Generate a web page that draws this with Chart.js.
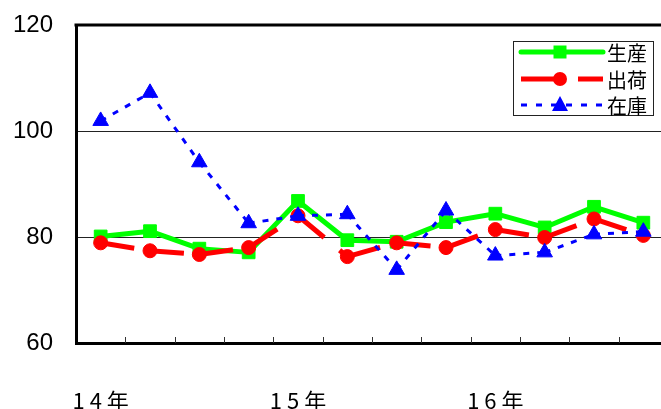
<!DOCTYPE html>
<html>
<head>
<meta charset="utf-8">
<script src="https://cdn.jsdelivr.net/npm/chart.js@4/dist/chart.umd.min.js"></script>
<style>
  html, body { margin: 0; padding: 0; background: #fff; overflow: hidden; }
  #wrap { width: 668px; height: 409px; }
</style>
</head>
<body>
<div id="wrap"><canvas id="chart" width="668" height="409"></canvas></div>
<script>
// 四半期ごとの指数（14年〜16年）
const categories = ['1 4 年', '', '', '', '1 5 年', '', '', '', '1 6 年', '', '', ''];
const seriesNames = ['生産', '出荷', '在庫'];
const production = [80.1, 81.1, 77.8, 77.1, 86.8, 79.4, 79.1, 82.8, 84.4, 81.8, 85.7, 82.7];
const shipments  = [78.9, 77.4, 76.7, 78.0, 84.0, 76.3, 78.9, 78.0, 81.4, 79.9, 83.4, 80.3];
const inventory  = [101.9, 107.2, 94.1, 82.6, 84.0, 84.3, 73.8, 85.0, 76.5, 77.1, 80.5, 81.0];
const yTicks = [60, 80, 100, 120];

// 線分ごとに破線を最初から描き直す（Excel風）
const resetDash = { borderDashOffset: c => (c.p0DataIndex % 2) * 0.001 };

// 上の枠線と、x軸の内向き目盛り
const framePlugin = {
    id: 'frame',
    afterDraw(chart) {
        const ctx = chart.ctx;
        const area = chart.chartArea;
        const x = chart.scales.x;
        ctx.save();
        ctx.strokeStyle = '#000';
        ctx.lineWidth = 3;
        ctx.beginPath();
        ctx.moveTo(area.left - 1.5, area.top);
        ctx.lineTo(area.right, area.top);
        ctx.stroke();
        ctx.lineWidth = 1;
        ctx.strokeStyle = '#333';
        for (let i = 0; i < categories.length - 1; i++) {
            const px = Math.round((x.getPixelForValue(i) + x.getPixelForValue(i + 1)) / 2) + 0.5;
            ctx.beginPath();
            ctx.moveTo(px, area.bottom);
            ctx.lineTo(px, area.bottom - 6);
            ctx.stroke();
        }
        ctx.restore();
    }
};

// 凡例（線＋マーカー）
const legendPlugin = {
    id: 'boxLegend',
    afterDraw(chart) {
        const ctx = chart.ctx;
        const left = 513, top = 41, w = 140, h = 74;
        ctx.save();
        ctx.fillStyle = '#fff';
        ctx.fillRect(left, top, w, h);
        ctx.strokeStyle = '#222';
        ctx.lineWidth = 1;
        ctx.strokeRect(left + 0.5, top + 0.5, w, h);

        const rows = [52, 79, 105];
        const x1 = 521, x2 = 603, mx = 560;
        chart.data.datasets.forEach((ds, i) => {
            const y = rows[i];
            ctx.strokeStyle = ds.borderColor;
            ctx.fillStyle = ds.borderColor;
            ctx.lineWidth = i === 2 ? 3 : 5;
            ctx.lineCap = i === 0 ? 'round' : 'butt';
            ctx.setLineDash(i === 1 ? [40, 17] : i === 2 ? [6, 9] : []);
            ctx.beginPath();
            ctx.moveTo(x1, y);
            ctx.lineTo(x2, y);
            ctx.stroke();
            ctx.setLineDash([]);
            ctx.beginPath();
            if (i === 0) {
                ctx.rect(mx - 6.5, y - 6.5, 13, 13);
            } else if (i === 1) {
                ctx.arc(mx, y, 7, 0, Math.PI * 2);
            } else {
                ctx.moveTo(mx, y - 9);
                ctx.lineTo(mx + 8, y + 6);
                ctx.lineTo(mx - 8, y + 6);
                ctx.closePath();
            }
            ctx.fill();
            ctx.fillStyle = '#000';
            ctx.font = '20px "Noto Sans CJK JP"';
            ctx.textBaseline = 'middle';
            ctx.textAlign = 'left';
            ctx.fillText(ds.label, 607, y + 1);
        });
        ctx.restore();
    }
};

const ctx = document.getElementById('chart').getContext('2d');
new Chart(ctx, {
    type: 'line',
    data: {
        labels: categories,
        datasets: [
            {
                label: seriesNames[0],
                data: production,
                borderColor: '#00ff00',
                backgroundColor: '#00ff00',
                borderWidth: 5,
                borderJoinStyle: 'round',
                borderCapStyle: 'round',
                pointStyle: 'rect',
                pointRadius: 9,
                pointBorderWidth: 1,
                pointBorderColor: '#00ff00',
                pointBackgroundColor: '#00ff00',
                order: 3
            },
            {
                label: seriesNames[1],
                data: shipments,
                borderColor: '#ff0000',
                backgroundColor: '#ff0000',
                borderWidth: 5,
                borderDash: [34, 20],
                segment: resetDash,
                pointStyle: 'circle',
                pointRadius: 7,
                pointBorderWidth: 1,
                pointBorderColor: '#ff0000',
                pointBackgroundColor: '#ff0000',
                order: 2
            },
            {
                label: seriesNames[2],
                data: inventory,
                borderColor: '#0000ff',
                backgroundColor: '#0000ff',
                borderWidth: 3,
                borderDash: [6, 8],
                segment: resetDash,
                pointStyle: 'triangle',
                pointRadius: 9,
                pointBorderWidth: 1,
                pointBorderColor: '#0000ff',
                pointBackgroundColor: '#0000ff',
                order: 1
            }
        ]
    },
    options: {
        responsive: false,
        animation: false,
        devicePixelRatio: 1,
        tension: 0,
        layout: { autoPadding: false, padding: { top: 25, left: 0, right: 0, bottom: 0 } },
        plugins: {
            legend: { display: false },
            tooltip: { enabled: false }
        },
        scales: {
            x: {
                offset: true,
                grid: { drawOnChartArea: false, drawTicks: false },
                border: { display: true, color: '#000', width: 3 },
                ticks: {
                    autoSkip: false,
                    maxRotation: 0,
                    padding: 44,
                    color: '#000',
                    font: { family: '"Noto Sans CJK JP"', size: 22 }
                },
                afterFit: scale => {
                    scale.height = 66;
                    scale.paddingLeft = 0;
                    scale.paddingRight = 0;
                }
            },
            y: {
                min: 60,
                max: 120,
                afterBuildTicks: scale => { scale.ticks = yTicks.map(v => ({ value: v })); },
                grid: { color: '#222', lineWidth: 1, drawTicks: false },
                border: { display: true, color: '#000', width: 3 },
                ticks: {
                    padding: 23,
                    color: '#000',
                    font: { family: '"Liberation Sans", Arial, sans-serif', size: 24 }
                },
                afterFit: scale => {
                    scale.width = 76;
                    scale.paddingTop = 0;
                    scale.paddingBottom = 0;
                }
            }
        }
    },
    plugins: [framePlugin, legendPlugin]
});
</script>
</body>
</html>
